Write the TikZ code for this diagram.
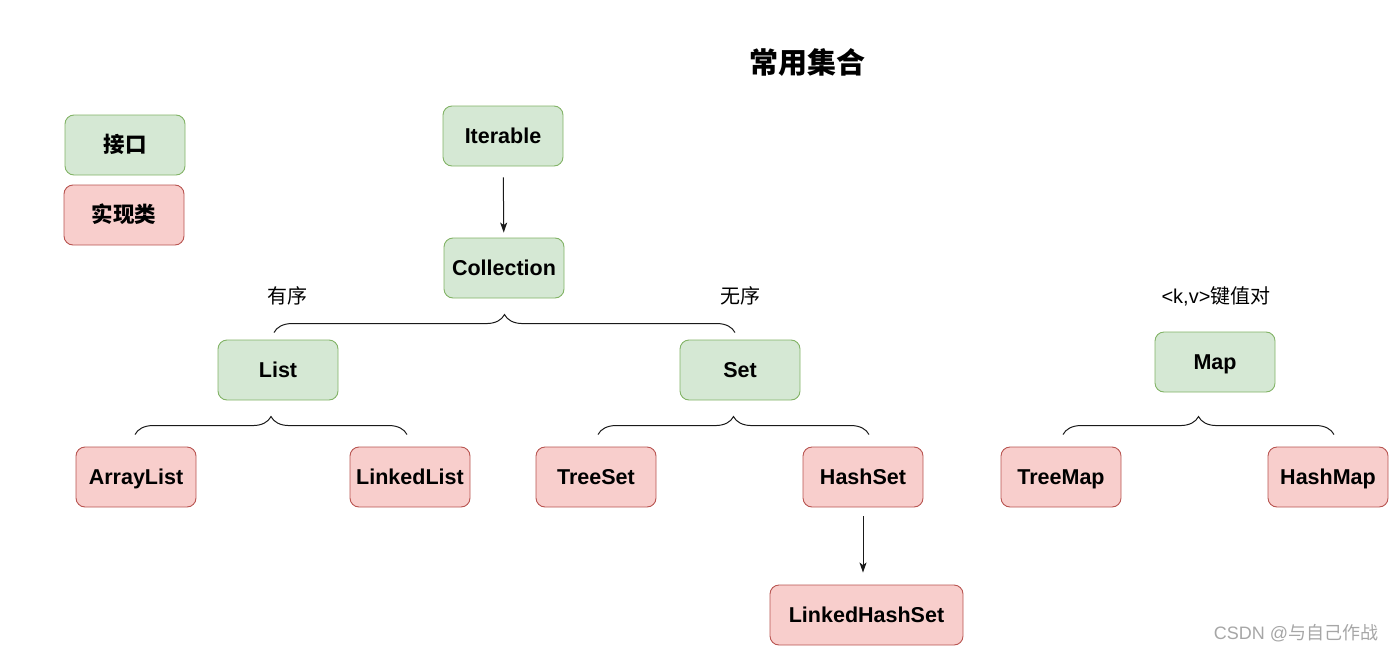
\documentclass[tikz,border=0pt]{standalone}
\usepackage{fontspec}
\setmainfont{Liberation Sans}
\newfontfamily\cjk{Noto Sans CJK SC}
\usetikzlibrary{arrows.meta,positioning,calc,decorations.pathreplacing}
\definecolor{ccgreen}    {HTML}{D5E8D4}
\definecolor{ccgreenline}{HTML}{82B366}
\definecolor{ccred}      {HTML}{F8CECC}
\definecolor{ccredline}  {HTML}{B85450}
\definecolor{ccink}      {HTML}{1A1A1A}
\definecolor{ccmark}     {HTML}{A6A6A6}
\tikzset{
  ccnode/.style={rounded corners=9pt, line width=0.9pt, minimum width=120pt,
                 minimum height=60pt, inner sep=0pt, text height=15.5pt,
                 text depth=0pt, font=\fontsize{21.5}{24}\selectfont\bfseries},
  ccif/.style={ccnode, draw=ccgreenline, fill=ccgreen},
  ccimpl/.style={ccnode, draw=ccredline, fill=ccred},
  ccedge/.style={-{Stealth[length=10pt,width=7pt,inset=2.5pt]}, draw=ccink,
                 line width=1pt},
  ccbrace/.style={draw=ccink, line width=1pt, decorate,
                  decoration={brace,amplitude=18pt}},
  cclabel/.style={font=\fontsize{20}{24}\selectfont},
}

\begin{document}
\begin{tikzpicture}[x=1pt,y=-1pt]
  \useasboundingbox (0,0) rectangle (1397,653);

  \node[font=\fontsize{29}{32}\selectfont\bfseries\cjk] (title) at (807,62) {常用集合};

  % legend
  \node[ccif]   (legendif)   at (125,145) {\cjk 接口};
  \node[ccimpl] (legendimpl) at (124,215) {\cjk 实现类};

  % Collection side
  \node[ccif] (iterable)   at (503,136) {Iterable};
  \node[ccif] (collection) at (504,268) {Collection};
  \draw[ccedge, shorten <=11pt, shorten >=5pt] (iterable) -- (collection);

  \node[cclabel] (ordered)   at (287,296) {\cjk 有序};
  \node[cclabel] (unordered) at (740,296) {\cjk 无序};

  \node[ccif] (list) at (278,370) {List};
  \node[ccif] (set)  at (740,370) {Set};
  \draw[ccbrace] ([xshift=-4pt,yshift=7pt]list.north) -- ([xshift=-5pt,yshift=7pt]set.north);

  \node[ccimpl] (arraylist)  at (136,477) {ArrayList};
  \node[ccimpl] (linkedlist) at (410,477) {LinkedList};
  \draw[ccbrace] ([xshift=-1pt,yshift=12pt]arraylist.north) -- ([xshift=-3pt,yshift=12pt]linkedlist.north);

  \node[ccimpl] (treeset) at (596,477) {TreeSet};
  \node[ccimpl] (hashset) at (863,477) {HashSet};
  \draw[ccbrace] ([xshift=2pt,yshift=12pt]treeset.north) -- ([xshift=6pt,yshift=12pt]hashset.north);

  \node[ccimpl, minimum width=193pt] (linkedhashset) at (866.5,615) {LinkedHashSet};
  \draw[ccedge, shorten <=9pt, shorten >=12pt] (hashset) -- (hashset |- linkedhashset.north);

  % Map side
  \node[cclabel] (kvpair) at (1216,296) {<k,v>{\cjk 键值对}};
  \node[ccif] (map) at (1215,362) {Map};

  \node[ccimpl] (treemap) at (1061,477) {TreeMap};
  \node[ccimpl] (hashmap) at (1328,477) {HashMap};
  \draw[ccbrace] ([xshift=2pt,yshift=12pt]treemap.north) -- ([xshift=6pt,yshift=12pt]hashmap.north);

  \node[text=ccmark, font=\fontsize{18}{20}\selectfont] (mark) at (1296,633)
    {CSDN @{\cjk 与自己作战}};
\end{tikzpicture}
\end{document}
